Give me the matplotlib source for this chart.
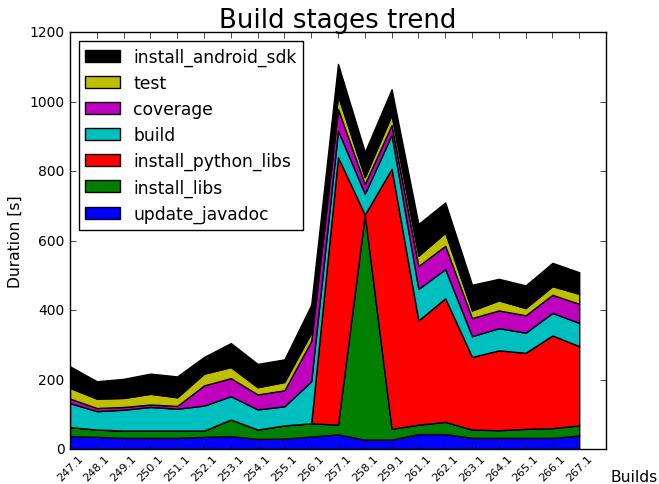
import matplotlib
matplotlib.use("Agg")
import matplotlib.pyplot as plt
import numpy as np

builds = ['247.1', '248.1', '249.1', '250.1', '251.1', '252.1', '253.1', '254.1',
          '255.1', '256.1', '257.1', '258.1', '259.1', '261.1', '262.1', '263.1',
          '264.1', '265.1', '266.1', '267.1']

update_javadoc = [37, 35, 32, 32, 32, 35, 37, 29, 30, 36, 42, 27, 27, 43, 43, 32, 32, 32, 32, 39]
install_libs = [26, 21, 21, 21, 21, 18, 48, 27, 38, 38, 28, 648, 31, 27, 35, 24, 22, 26, 28, 29]
install_python_libs = [0, 0, 0, 0, 0, 0, 0, 0, 0, 0, 770, 0, 749, 300, 356, 209, 230, 219, 267, 228]
build = [69, 53, 60, 68, 63, 72, 67, 58, 55, 121, 77, 60, 98, 91, 84, 60, 64, 58, 65, 67]
coverage = [13, 9, 8, 7, 8, 58, 52, 43, 46, 116, 62, 28, 28, 66, 67, 52, 51, 50, 52, 55]
test = [31, 27, 26, 31, 25, 34, 32, 21, 24, 24, 39, 20, 29, 30, 38, 22, 29, 21, 25, 29]
install_android_sdk = [62, 50, 55, 58, 60, 48, 69, 67, 65, 80, 91, 72, 74, 91, 87, 74, 62, 65, 67, 62]

stage_names = ['update_javadoc', 'install_libs', 'install_python_libs', 'build',
               'coverage', 'test', 'install_android_sdk']
stage_colors = ['b', 'g', 'r', 'c', 'm', 'y', 'k']

plt.style.use('classic')
fig = plt.figure(figsize=(6.59, 4.85), dpi=100, facecolor='white')
ax = fig.add_axes([0.1062, 0.0722, 0.8134, 0.8591])

x = np.arange(len(builds))
polys = ax.stackplot(x, update_javadoc, install_libs, install_python_libs, build,
                     coverage, test, install_android_sdk,
                     labels=stage_names, colors=stage_colors,
                     edgecolor='k', linewidth=1.0)

ax.set_xlim(0, len(builds))
ax.set_ylim(0, 1200)
ax.set_yticks(np.arange(0, 1201, 200))
ax.set_xticks(x)
ax.set_xticklabels(builds, rotation=45)
ax.tick_params(axis='y', labelsize=10)
ax.tick_params(axis='x', labelsize=8, pad=3)

ax.set_title('Build stages trend', fontsize=18.7, pad=3.6)
ax.set_ylabel('Duration [s]', fontsize=11.2)
ax.text(1.052, -0.065, 'Builds', transform=ax.transAxes, ha='center', va='center',
        fontsize=11.2)

handles, labels = ax.get_legend_handles_labels()
ax.legend(handles[::-1], labels[::-1], loc='upper left', fontsize=12.3,
          labelspacing=0.47)

fig.savefig('out.png', dpi=100, facecolor='white')
